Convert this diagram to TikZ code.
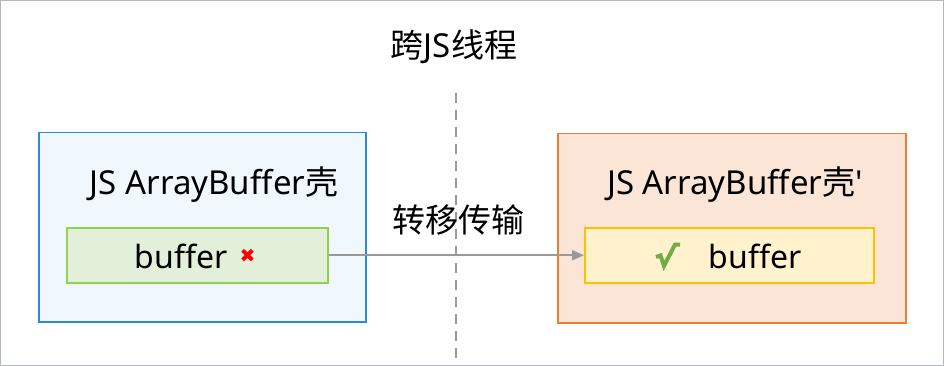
\documentclass[tikz,border=0pt]{standalone}
\usepackage{fontspec}
\newfontfamily\latf[Ligatures=NoCommon]{Noto Sans}
\newfontfamily\cjkf{Noto Sans CJK SC}
\newfontfamily\symfont{DejaVu Sans}
\usetikzlibrary{arrows.meta}
\definecolor{frameg}{HTML}{B4B8C0}
\definecolor{lblue}{HTML}{2F88D8}
\definecolor{lbluef}{HTML}{F0F8FE}
\definecolor{lgreen}{HTML}{92D050}
\definecolor{lgreenf}{HTML}{E2EFD9}
\definecolor{lorange}{HTML}{ED7D31}
\definecolor{lorangef}{HTML}{FBE5D6}
\definecolor{lyellow}{HTML}{FFC000}
\definecolor{lyellowf}{HTML}{FFF2CC}
\definecolor{arrg}{HTML}{999999}
\definecolor{chk}{HTML}{70AD47}
\tikzset{
  outerbox/.style={draw=#1, line width=1.5pt, minimum height=189pt, anchor=north west, inner sep=0pt},
  innerbox/.style={line width=1.5pt, minimum height=55pt, anchor=north west, inner sep=0pt},
  lbl/.style={font=\latf\fontsize{33}{37}\selectfont, inner sep=0pt},
}
\begin{document}
\begin{tikzpicture}[x=1pt,y=-1pt]
\useasboundingbox (0,0) rectangle (944,366);
\draw[frameg, line width=1.2pt] (0.6,0.6) rectangle (943.4,365.4);
\node[lbl] (title) at (454,47) {{\cjkf 跨}JS{\cjkf 线程}};
\coordinate (dtop) at (456,93);
\coordinate (dbot) at (456,358);
\node[outerbox=lblue, fill=lbluef, minimum width=327pt] (lbox) at (38,132) {};
\node[outerbox=lorange, fill=lorangef, minimum width=348pt] (rbox) at (557,133) {};
\node[lbl] (ltitle) at (214,185) {JS ArrayBuffer{\cjkf 壳}};
\node[lbl] (rtitle) at (735,185) {JS ArrayBuffer{\cjkf 壳}'};
\node[innerbox, draw=lgreen, fill=lgreenf, minimum width=261pt] (lbuf) at (66,227) {};
\node[innerbox, draw=lyellow, fill=lyellowf, minimum width=289pt] (rbuf) at (584,227) {};
\node[lbl, font=\latf\fontsize{32}{36}\selectfont] (lbuftxt) at (181,256) {buffer};
\node[inner sep=0pt, text=red, font=\symfont\bfseries\fontsize{19}{21}\selectfont] (xmark) at (247.5,255.5) {✖};
\node[lbl, font=\latf\fontsize{32}{36}\selectfont] (rbuftxt) at (755,256) {buffer};
\draw[chk, line width=4pt, line join=miter, line cap=butt] (656,257) -- (660.5,255.5) -- (664,266) -- (675,244.5) -- (680,244.5);
\draw[arrg, line width=2.5pt, dash pattern=on 10pt off 7pt] (dtop) -- (dbot);
\draw[arrg, line width=2pt, -{Triangle[length=12pt,width=10pt]}] (lbuf.east) -- (rbuf.west);
\node[lbl, font=\cjkf\fontsize{33}{37}\selectfont] (xfer) at (458,220) {转移传输};
\end{tikzpicture}
\end{document}
